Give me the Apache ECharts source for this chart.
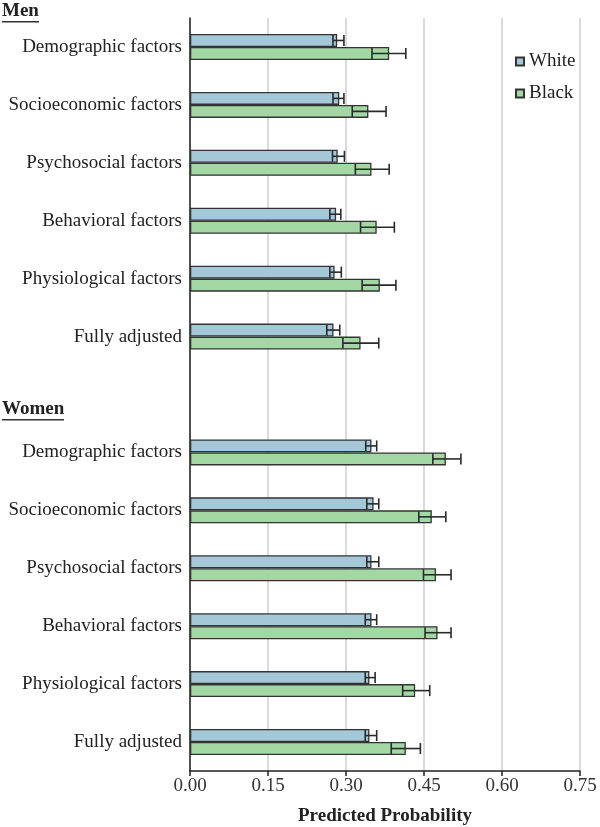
<!DOCTYPE html>
<html>
<head>
<meta charset="utf-8">
<script src="https://cdn.jsdelivr.net/npm/echarts@6/dist/echarts.min.js"></script>
<style>html,body{margin:0;padding:0;background:#fff}#c{width:600px;height:827px}</style>
</head>
<body>
<div id="c"></div>
<script>
var categories = ['Demographic factors','Socioeconomic factors','Psychosocial factors','Behavioral factors','Physiological factors','Fully adjusted','',
  'Demographic factors','Socioeconomic factors','Psychosocial factors','Behavioral factors','Physiological factors','Fully adjusted'];
var xTicks = [0, 0.15, 0.30, 0.45, 0.60, 0.75];
var whiteVal  = [0.283,0.287,0.284,0.281,0.278,0.276,null, 0.349,0.353,0.349,0.349,0.345,0.345];
var whiteLow  = [0.275,0.275,0.274,0.269,0.269,0.263,null, 0.338,0.340,0.340,0.337,0.337,0.337];
var whiteHigh = [0.296,0.296,0.297,0.290,0.291,0.288,null, 0.359,0.363,0.363,0.359,0.356,0.359];
var blackVal  = [0.383,0.343,0.349,0.359,0.365,0.328,null, 0.492,0.465,0.473,0.476,0.433,0.415];
var blackLow  = [0.350,0.312,0.318,0.328,0.331,0.294,null, 0.467,0.440,0.449,0.452,0.409,0.387];
var blackHigh = [0.415,0.377,0.383,0.393,0.396,0.363,null, 0.521,0.492,0.502,0.502,0.461,0.443];
var groupLabels = ['Men','Women'];

var FONT = '"Liberation Serif", "DejaVu Serif", serif';
var FS = 19;
var BAR_W = 13;

function errData(lo, hi) {
  var d = [];
  for (var i = 0; i < lo.length; i++) if (lo[i] != null) d.push([i, lo[i], hi[i]]);
  return d;
}
function errRender(offset) {
  return function (params, api) {
    var c = api.value(0);
    var p1 = api.coord([api.value(1), c]);
    var p2 = api.coord([api.value(2), c]);
    var y = p1[1] + offset;
    var h = 5.5;
    var st = {stroke: '#2a2a2a', lineWidth: 1.6};
    return {type: 'group', children: [
      {type: 'line', shape: {x1: p1[0], y1: y, x2: p2[0], y2: y}, style: st},
      {type: 'line', shape: {x1: p1[0], y1: y - h, x2: p1[0], y2: y + h}, style: st},
      {type: 'line', shape: {x1: p2[0], y1: y - h, x2: p2[0], y2: y + h}, style: st}
    ]};
  };
}

var chart = echarts.init(document.getElementById('c'));
chart.setOption({
  animation: false,
  textStyle: {fontFamily: FONT},
  grid: {left: 190, right: 20, top: 18, bottom: 56, containLabel: false, outerBoundsMode: 'none'},
  legend: {
    orient: 'vertical', left: 510, top: 47, itemWidth: 8, itemHeight: 8, itemGap: 13,
    icon: 'rect',
    textStyle: {fontFamily: FONT, fontSize: FS, color: '#222'},
    data: ['White', 'Black']
  },
  xAxis: {
    type: 'value', min: 0, max: 0.75, interval: 0.15,
    name: 'Predicted Probability', nameLocation: 'middle', nameGap: 36,
    nameTextStyle: {fontFamily: FONT, fontSize: FS, fontWeight: 'bold', color: '#222'},
    axisLine: {show: true, lineStyle: {color: '#222', width: 1.5}},
    axisTick: {show: true, length: 5, lineStyle: {color: '#222', width: 1.5}},
    axisLabel: {fontFamily: FONT, fontSize: FS, color: '#333', margin: 6,
      formatter: function (v) { return v.toFixed(2); }},
    splitLine: {show: true, lineStyle: {color: '#cfcfcf', width: 1.5}}
  },
  yAxis: {
    type: 'category', inverse: true, data: categories,
    axisLine: {show: true, lineStyle: {color: '#222', width: 1.5}},
    axisTick: {show: false},
    axisLabel: {fontFamily: FONT, fontSize: FS, color: '#222', margin: 8}
  },
  graphic: [
    {type: 'text', left: 2, top: 2, style: {text: groupLabels[0], font: 'bold ' + FS + 'px ' + FONT, fill: '#222'}},
    {type: 'rect', left: 2, top: 21, shape: {width: 37, height: 1.5}, style: {fill: '#333'}},
    {type: 'text', left: 2, top: 400, style: {text: groupLabels[1], font: 'bold ' + FS + 'px ' + FONT, fill: '#222'}},
    {type: 'rect', left: 2, top: 419, shape: {width: 62, height: 1.5}, style: {fill: '#333'}}
  ],
  series: [
    {name: 'White', type: 'bar', data: whiteVal, barWidth: BAR_W, barGap: '0%',
      itemStyle: {color: '#a5c8d9', borderColor: '#333', borderWidth: 1.3}},
    {name: 'Black', type: 'bar', data: blackVal, barWidth: BAR_W, barGap: '0%',
      itemStyle: {color: '#a3d8a4', borderColor: '#333', borderWidth: 1.3}},
    {type: 'custom', renderItem: errRender(-BAR_W / 2), data: errData(whiteLow, whiteHigh),
      encode: {x: [1, 2], y: 0}, z: 5, silent: true},
    {type: 'custom', renderItem: errRender(BAR_W / 2), data: errData(blackLow, blackHigh),
      encode: {x: [1, 2], y: 0}, z: 5, silent: true}
  ]
});
</script>
</body>
</html>
